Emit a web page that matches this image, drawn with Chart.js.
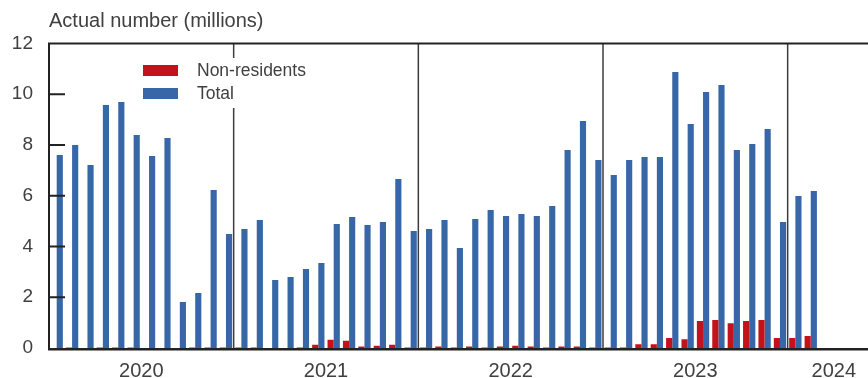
<!DOCTYPE html>
<html>
<head>
<meta charset="utf-8">
<script src="https://cdn.jsdelivr.net/npm/chart.js@4/dist/chart.umd.min.js"></script>
<style>
  html, body { margin: 0; padding: 0; background: #fff; overflow: hidden; }
  #wrap { position: relative; width: 882px; height: 378px; }
</style>
</head>
<body>
<div id="wrap"><canvas id="c" width="882" height="378"></canvas></div>
<script>
// Monthly counts, January 2020 onwards (millions)
const years = [2020, 2021, 2022, 2023, 2024];
const monthNames = ['Jan','Feb','Mar','Apr','May','Jun','Jul','Aug','Sep','Oct','Nov','Dec'];
const monthsShownIn2024 = 6;

const nonResidents = [
  0, 0.02, 0, 0.02, 0.02, 0.02, 0, 0, 0, 0.02, 0.02, 0.02,
  0.02, 0.02, 0, 0, 0.02, 0.13, 0.33, 0.29, 0.06, 0.09, 0.13, 0.02,
  0.02, 0.06, 0.02, 0.06, 0.02, 0.06, 0.09, 0.06, 0.02, 0.06, 0.06, 0.02,
  0.02, 0.02, 0.15, 0.15, 0.39, 0.34, 1.06, 1.10, 0.98, 1.06, 1.10, 0.39,
  0.39, 0.47
];
const total = [
  7.61, 8.00, 7.21, 9.58, 9.69, 8.39, 7.57, 8.28, 1.81, 2.17, 6.23, 4.49,
  4.69, 5.04, 2.68, 2.80, 3.11, 3.35, 4.89, 5.16, 4.85, 4.97, 6.66, 4.61,
  4.69, 5.04, 3.94, 5.08, 5.44, 5.20, 5.28, 5.20, 5.60, 7.80, 8.95, 7.41,
  6.82, 7.41, 7.53, 7.53, 10.88, 8.83, 10.09, 10.36, 7.80, 8.04, 8.63, 4.97,
  5.99, 6.19
];
const yTicks = [0, 2, 4, 6, 8, 10, 12];

const categories = [];
const categoryYear = [];
years.forEach(y => {
  const n = y === 2024 ? monthsShownIn2024 : 12;
  for (let m = 0; m < n; m++) { categories.push(monthNames[m] + ' ' + y); categoryYear.push(y); }
});

const FONT = '"Liberation Sans", Arial, Helvetica, sans-serif';
const TEXT = '#404040';
const AXIS = '#222';

const decor = {
  id: 'decor',
  beforeDatasetsDraw(chart) {
    const { ctx, chartArea: a, scales: { x } } = chart;
    const half = (x.getPixelForValue(1) - x.getPixelForValue(0)) / 2;
    ctx.save();
    ctx.strokeStyle = '#3c3c3c';
    ctx.lineWidth = 1.5;
    years.forEach((y, i) => {
      if (i === 0) return;
      const first = categoryYear.indexOf(y);
      const px = x.getPixelForValue(first) - half;
      ctx.beginPath(); ctx.moveTo(px, a.top); ctx.lineTo(px, a.bottom); ctx.stroke();
    });
    ctx.restore();
  },
  afterDatasetsDraw(chart) {
    const { ctx, chartArea: a, scales: { x, y } } = chart;
    ctx.save();
    // legend box
    ctx.fillStyle = '#fff';
    ctx.fillRect(136, 58, 185, 50);
    const items = chart.data.datasets;
    items.forEach((ds, i) => {
      const cy = 70.5 + i * 23;
      ctx.fillStyle = ds.backgroundColor;
      ctx.fillRect(143, cy - 5.5, 35, 11);
      ctx.fillStyle = TEXT;
      ctx.font = '17.5px ' + FONT;
      ctx.textBaseline = 'middle';
      ctx.textAlign = 'left';
      ctx.fillText(ds.label, 197, cy + 1);
    });
    // frame
    ctx.strokeStyle = AXIS;
    ctx.lineWidth = 2;
    ctx.beginPath(); ctx.moveTo(a.left - 1, a.top); ctx.lineTo(a.right + 20, a.top); ctx.stroke();
    ctx.beginPath(); ctx.moveTo(a.left, a.top); ctx.lineTo(a.left, a.bottom + 2); ctx.stroke();
    ctx.lineWidth = 2.5;
    ctx.beginPath(); ctx.moveTo(a.left - 1, a.bottom + 1.2); ctx.lineTo(a.right + 20, a.bottom + 1.2); ctx.stroke();
    // inward y tick marks
    ctx.lineWidth = 2;
    yTicks.forEach(v => {
      if (v === 0 || v === 12) return;
      const py = y.getPixelForValue(v);
      ctx.beginPath(); ctx.moveTo(a.left, py); ctx.lineTo(a.left + 16, py); ctx.stroke();
    });
    // title
    ctx.fillStyle = TEXT;
    ctx.font = '20px ' + FONT;
    ctx.textAlign = 'left';
    ctx.textBaseline = 'alphabetic';
    ctx.fillText('Actual number (millions)', 49, 27);
    // year labels centred on each year's months
    ctx.textAlign = 'center';
    ctx.font = '20px ' + FONT;
    years.forEach(yr => {
      const first = categoryYear.indexOf(yr);
      const last = categoryYear.lastIndexOf(yr);
      const cx = (x.getPixelForValue(first) + x.getPixelForValue(last)) / 2;
      ctx.fillText(String(yr), cx, 377);
    });
    ctx.restore();
  }
};

new Chart(document.getElementById('c'), {
  type: 'bar',
  data: {
    labels: categories,
    datasets: [
      { label: 'Non-residents', data: nonResidents, backgroundColor: '#c4121d', categoryPercentage: 0.8, barPercentage: 1.0 },
      { label: 'Total', data: total, backgroundColor: '#3867a8', categoryPercentage: 0.8, barPercentage: 1.0 }
    ]
  },
  options: {
    responsive: false,
    animation: false,
    devicePixelRatio: 1,
    layout: { padding: { left: 0, right: 2, top: 43.5, bottom: 0 } },
    plugins: { legend: { display: false }, title: { display: false }, tooltip: { enabled: false } },
    scales: {
      x: {
        grid: { display: false, drawTicks: false },
        border: { display: false },
        ticks: { display: false },
        afterFit(s) { s.height = 30; }
      },
      y: {
        min: 0, max: 12,
        afterBuildTicks(s) { s.ticks = yTicks.map(v => ({ value: v })); },
        grid: { display: false, drawTicks: false },
        border: { display: false },
        ticks: { color: TEXT, font: { family: FONT, size: 19 }, padding: 16 },
        afterFit(s) { s.width = 49; }
      }
    }
  },
  plugins: [decor]
});
</script>
</body>
</html>
